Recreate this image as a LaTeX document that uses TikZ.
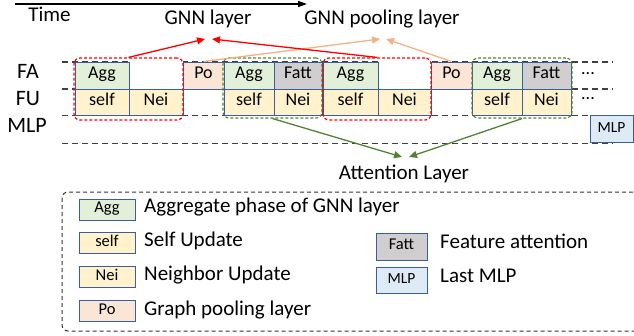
\documentclass[tikz,border=0pt]{standalone}
\usepackage{fontspec}
\setmainfont{Carlito}
\usetikzlibrary{arrows.meta}
\definecolor{bord}{HTML}{3A5E9A}
\definecolor{aggc}{HTML}{E2F0D9}
\definecolor{updc}{HTML}{FFF2CC}
\definecolor{poc}{HTML}{FBE5D6}
\definecolor{fattc}{HTML}{D0CECE}
\definecolor{mlpc}{HTML}{DEEBF7}
\definecolor{redc}{HTML}{FF0000}
\definecolor{greenc}{HTML}{548235}
\definecolor{peachc}{HTML}{F4B183}
\definecolor{grayl}{HTML}{404040}
\tikzset{
  cell/.style={draw=bord, line width=1pt, inner sep=0pt, text height=0.64em, text depth=0pt, font=\fontsize{18}{21}\selectfont},
  lcell/.style={cell, font=\fontsize{16.5}{19}\selectfont},
  lbl/.style={inner sep=0pt, text height=0.64em, text depth=0pt, font=\fontsize{21}{25}\selectfont},
  rowlbl/.style={inner sep=0pt, text height=0.64em, text depth=0pt, font=\fontsize{22}{26}\selectfont},
  gridl/.style={draw=grayl, line width=1.3pt, dash pattern=on 6pt off 4pt},
  redgrp/.style={draw=redc, line width=1.2pt, dash pattern=on 3pt off 2pt, rounded corners=6pt, inner sep=0pt},
  greengrp/.style={draw=greenc, line width=1.1pt, dash pattern=on 3pt off 2pt, rounded corners=6pt, inner sep=0pt},
  redarr/.style={draw=redc, line width=1.3pt, -{Triangle[length=8pt,width=7pt]}},
  peacharr/.style={draw=peachc, line width=1.3pt, -{Triangle[length=8pt,width=7pt]}},
  greenarr/.style={draw=greenc, line width=1.3pt, -{Triangle[length=8pt,width=7pt]}},
}
\newcommand{\cellbox}[7]{\node[cell, fill=#6, minimum width={#3-#2}, minimum height={#5-#4}] (#1) at ({(#2+#3)/2},{(#4+#5)/2}) {#7};}
\begin{document}
\begin{tikzpicture}[x=1pt,y=-1pt]
\useasboundingbox (0,0) rectangle (634,335);
% time arrow
\coordinate (t0) at (15,4);
\coordinate (t1) at (307,4);
\draw[line width=1.5pt, -{Triangle[length=9pt,width=6pt]}] (t0) -- (t1);
\node[lbl] (time) at (49.5,18) {Time};
% row labels
\node[rowlbl] (fa) at (28,75.5) {FA};
\node[rowlbl] (fu) at (28,102) {FU};
\node[rowlbl] (mlp) at (27,129) {MLP};
% grid lines
\draw[gridl] (62,62) -- (613,62);
\draw[gridl] (62,89) -- (613,89);
\draw[gridl] (62,115.5) -- (613,115.5);
\draw[gridl] (62,143.5) -- (613,143.5);
% empty cells
\fill[white] (129.5,60) rectangle (182.5,88.5);
\fill[white] (378.5,60) rectangle (430.5,88.5);
% cells
\cellbox{a1}{75}{129}{62}{89}{aggc}{Agg}
\cellbox{s1}{75}{129}{89}{115.5}{updc}{self}
\cellbox{n1}{129}{183}{89}{115.5}{updc}{Nei}
\cellbox{p1}{183}{224}{62}{89}{poc}{Po}
\cellbox{a2}{224}{274}{62}{89}{aggc}{Agg}
\cellbox{f2}{274}{322}{62}{89}{fattc}{Fatt}
\cellbox{s2}{224}{274}{89}{115.5}{updc}{self}
\cellbox{n2}{274}{322}{89}{115.5}{updc}{Nei}
\cellbox{a3}{323}{378}{62}{89}{aggc}{Agg}
\cellbox{s3}{323}{378}{89}{115.5}{updc}{self}
\cellbox{n3}{378}{431}{89}{115.5}{updc}{Nei}
\cellbox{p2}{431}{472}{62}{89}{poc}{Po}
\cellbox{a4}{472}{522}{62}{89}{aggc}{Agg}
\cellbox{f4}{522}{571}{62}{89}{fattc}{Fatt}
\cellbox{s4}{472}{522}{89}{115.5}{updc}{self}
\cellbox{n4}{522}{571}{89}{115.5}{updc}{Nei}
\node[cell, fill=mlpc, minimum width=43pt, minimum height=27pt, font=\fontsize{15.5}{18}\selectfont] (m1) at (611.5,129) {MLP};
\node[inner sep=0pt, font=\fontsize{18}{20}\selectfont] (dots1) at (588,74) {...};
\node[inner sep=0pt, font=\fontsize{18}{20}\selectfont] (dots2) at (588,99) {...};
% groups
\node[redgrp, minimum width=109pt, minimum height=62pt] (r1) at (128.5,89) {};
\node[greengrp, minimum width=99pt, minimum height=60pt] (g1) at (272.5,88) {};
\node[redgrp, minimum width=108pt, minimum height=62pt] (r2) at (377,89) {};
\node[greengrp, minimum width=100pt, minimum height=60pt] (g2) at (522,88) {};
% labels
\node[lbl] (gnn) at (208,21) {GNN layer};
\node[lbl] (pool) at (382,21) {GNN pooling layer};
\node[lbl] (att) at (404,176) {Attention Layer};
\coordinate (ra) at (205,39);
\coordinate (rb) at (212,39);
\coordinate (pa) at (380,39);
\coordinate (pb) at (386,39);
\coordinate (ga) at (402,157);
\coordinate (gb) at (409,157);
\draw[peacharr] (p1.north) -- (pa);
\draw[peacharr] (p2.north) -- (pb);
\draw[redarr] (r1.north) -- (ra);
\draw[redarr] (r2.north) -- (rb);
\draw[greenarr] (g1.south) -- (ga);
\draw[greenarr] (g2.south) -- (gb);
% legend
\draw[draw=grayl!80!black, line width=1pt, dash pattern=on 4pt off 3pt, rounded corners=6pt] (62,192) rectangle (660,331);
\node[lcell, fill=aggc, minimum width=56pt, minimum height=21pt] (la) at (107,209.5) {Agg};
\node[lcell, fill=updc, minimum width=56pt, minimum height=21pt] (ls) at (107,243) {self};
\node[lcell, fill=updc, minimum width=56pt, minimum height=21pt] (ln) at (107,277) {Nei};
\node[lcell, fill=poc, minimum width=56pt, minimum height=21pt] (lp) at (107,311) {Po};
\node[lcell, fill=fattc, minimum width=51pt, minimum height=27pt] (lf) at (401.5,246.5) {Fatt};
\node[lcell, fill=mlpc, minimum width=51pt, minimum height=26pt, font=\fontsize{15.5}{18}\selectfont] (lm) at (401.5,280) {MLP};
\node[lbl, anchor=west] (ta) at (144,209) {Aggregate phase of GNN layer};
\node[lbl, anchor=west] (ts) at (144,243) {Self Update};
\node[lbl, anchor=west] (tn) at (144,277) {Neighbor Update};
\node[lbl, anchor=west] (tp) at (144,312) {Graph pooling layer};
\node[lbl, anchor=west] (tf) at (440,245) {Feature attention};
\node[lbl, anchor=west] (tm) at (440,279.5) {Last MLP};
\end{tikzpicture}
\end{document}
